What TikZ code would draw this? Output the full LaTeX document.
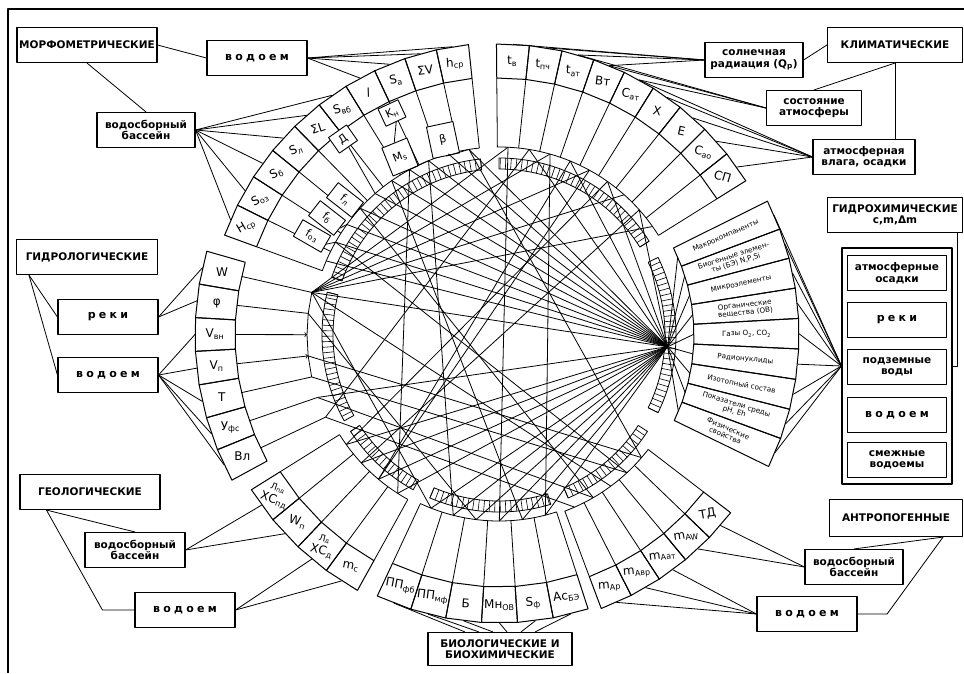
\documentclass[tikz,border=0pt]{standalone}
\usepackage{fontspec}
\setmainfont{DejaVu Sans}
\newfontfamily\wide[LetterSpace=30]{DejaVu Sans}
\usetikzlibrary{positioning,arrows,calc}

\tikzset{
  namebox/.style={draw, line width=1.1pt, font=\bfseries\fontsize{10.5}{11.5}\selectfont, minimum height=35pt, align=center, inner sep=2pt},
  titlebox/.style={draw, line width=1.1pt, font=\bfseries\fontsize{10.5}{11.5}\selectfont, minimum height=35pt, align=center, inner sep=2pt},
  wordbox/.style={draw, line width=1.1pt, font=\wide\bfseries\fontsize{11}{12}\selectfont, minimum height=35pt, minimum width=100pt},
  celltext/.style={font=\fontsize{12}{13}\selectfont, inner sep=0pt, align=center},
  chemtext/.style={font=\fontsize{7.2}{7.6}\selectfont, inner sep=0pt, align=center},
  smallbox/.style={draw, fill=white, line width=0.9pt, font=\fontsize{11}{12}\selectfont, inner sep=1pt, minimum width=22pt, minimum height=19pt},
  link/.style={line width=0.8pt},
}

% annular cell: name, angle from, angle to, r in, r out, text rotation, style, text
\newcommand\ringcell[8]{%
  \draw (#2:#4) -- (#2:#5) -- (#3:#5) -- (#3:#4) -- cycle;
  \node[#7, rotate=#6] (#1) at ({(#2+#3)/2}:{(#4+#5)/2}) {#8};
  \coordinate (#1-o) at ({(#2+#3)/2}:#5);
  \coordinate (#1-i) at ({(#2+#3)/2}:#4);
}
% fan of stems: start angle, step, count, r in, r stem
\newcommand\stems[5]{%
  \foreach \k in {0,...,#3} {\draw[link] ({#1-\k*(#2)}:#4) -- ({#1-\k*(#2)}:#5);}
  \draw[link] (#1:#5) arc[start angle=#1, end angle={#1-#3*(#2)}, radius=#5];
}

\begin{document}
\begin{tikzpicture}[x=1pt, y=-1pt, line width=1pt, line join=round]
\useasboundingbox (0,0) rectangle (964,673);
\draw[line width=1.2pt] (964,9) -- (8,9) -- (8,673);

% morphometric
\node[namebox, minimum width=140pt] (morph) at (87,45) {МОРФОМЕТРИЧЕСКИЕ};
\node[wordbox] (mvd) at (257,58) {водоем};
\node[titlebox, minimum width=98pt] (msb) at (146,130) {водосборный\\бассейн};

% climatic
\node[namebox, minimum width=135pt] (klim) at (895,45) {КЛИМАТИЧЕСКИЕ};
\node[titlebox, minimum width=98pt] (sol) at (754,60) {солнечная\\радиация (Q\textsubscript{р})};
\node[titlebox, minimum width=95pt] (sost) at (814,108) {состояние\\атмосферы};
\node[titlebox, minimum width=102pt] (vlaga) at (864,157) {атмосферная\\влага, осадки};

% hydrochemical
\node[namebox, minimum width=135pt] (gidro) at (895,215) {ГИДРОХИМИЧЕСКИЕ\\c,m,Δm};
\node[draw, line width=1.1pt, minimum width=110pt, minimum height=236pt] (frame) at (897,366) {};
\node[titlebox, minimum width=99pt] (ao) at (897,273) {атмосферные\\осадки};
\node[wordbox, minimum width=99pt] (rk) at (897,320) {реки};
\node[titlebox, minimum width=99pt] (pv) at (897,367) {подземные\\воды};
\node[wordbox, minimum width=99pt] (vd) at (897,415) {водоем};
\node[titlebox, minimum width=99pt] (sv) at (897,460) {смежные\\водоемы};

% hydrological
\node[namebox, minimum width=141pt] (gidrol) at (87,257) {ГИДРОЛОГИЧЕСКИЕ};
\node[wordbox] (hrk) at (108,317) {реки};
\node[wordbox] (hvd) at (108,375) {водоем};

% geological
\node[namebox, minimum width=140pt] (geol) at (90,492) {ГЕОЛОГИЧЕСКИЕ};
\node[titlebox, minimum width=100pt] (gsb) at (135,550) {водосборный\\бассейн};
\node[wordbox] (gvd) at (185,610) {водоем};

% biological
\node[namebox, minimum width=144pt, minimum height=33pt] (bio) at (500,649) {БИОЛОГИЧЕСКИЕ И\\БИОХИМИЧЕСКИЕ};

% anthropogenic
\node[namebox, minimum width=133pt, minimum height=37pt] (antr) at (896,518) {АНТРОПОГЕННЫЕ};
\node[titlebox, minimum width=98pt] (asb) at (854,567) {водосборный\\бассейн};
\node[wordbox] (avd) at (807,614) {водоем};

\begin{scope}[y=1pt, shift={(499,-335)}]
% hatched ring
\foreach \ringA/\ringB in {96/161, 32/90, -26/26, -67/-33, -113/-73, -147/-119, 166/209} {
  \draw[line width=0.8pt, fill=white] (\ringA:166) arc[start angle=\ringA, end angle=\ringB, radius=166]
    -- (\ringB:177) arc[start angle=\ringB, end angle=\ringA, radius=177] -- cycle;
  \pgfmathsetmacro\ringC{\ringA+1.8}
  \foreach \t in {\ringA,\ringC,...,\ringB} \draw[line width=0.6pt] (\t:166) -- (\t:177);
}

% morphometric cells
\foreach \lab [count=\i] in {H\textsubscript{ср},S\textsubscript{оз},S\textsubscript{б},S\textsubscript{л},ΣL,S\textsubscript{вб},\textit{l},S\textsubscript{а},ΣV,h\textsubscript{ср}} {
  \pgfmathsetmacro\angA{160-(\i-1)*6.4}
  \pgfmathsetmacro\angB{\angA-6.4}
  \pgfmathsetmacro\rotT{((\angA+\angB)/2-90)*0.45}
  \ringcell{m\i}{\angA}{\angB}{258}{292}{\rotT}{celltext}{\lab}
  \coordinate (m\i-s) at ({(\angA+\angB)/2}:188);
}
\stems{160}{6.4}{10}{258}{188}

% climatic cells
\foreach \lab [count=\i] in {t\textsubscript{в},t\textsubscript{пч},t\textsubscript{ат},Вт,С\textsubscript{ат},Х,Е,С\textsubscript{ао},СП} {
  \pgfmathsetmacro\angA{90.5-(\i-1)*6.5}
  \pgfmathsetmacro\angB{\angA-6.5}
  \pgfmathsetmacro\rotT{((\angA+\angB)/2-90)*0.3}
  \ringcell{c\i}{\angA}{\angB}{257}{291}{\rotT}{celltext}{\lab}
  \coordinate (c\i-s) at ({(\angA+\angB)/2}:188);
}
\stems{90.5}{6.5}{9}{257}{188}

% hydrochemical cells
\foreach \lab [count=\i] in {Макрокомпаненты,{Биогенные элемен-\\ты (БЭ) N,P,Si},Микроэлементы,{Органические\\вещества (ОВ)},{Газы O\textsubscript{2}, CO\textsubscript{2}},Радионуклиды,Изотопный состав,{Показатели среды\\pH, Eh},{Физические\\свойства}} {
  \pgfmathsetmacro\angA{26.5-(\i-1)*5.833}
  \pgfmathsetmacro\angB{\angA-5.833}
  \pgfmathsetmacro\rotT{(\angA+\angB)/2}
  \ringcell{hc\i}{\angA}{\angB}{195}{300}{\rotT}{chemtext}{\lab}
}
\coordinate (HR) at (-4:169);

% anthropogenic cells
\foreach \lab [count=\i] in {ТД,m\textsubscript{AW},m\textsubscript{Aат},m\textsubscript{Aвр},m\textsubscript{Ар}} {
  \pgfmathsetmacro\angA{-37.5-(\i-1)*6.4}
  \pgfmathsetmacro\angB{\angA-6.4}
  \pgfmathsetmacro\rotT{((\angA+\angB)/2+90)*0.2}
  \ringcell{a\i}{\angA}{\angB}{258}{292}{\rotT}{celltext}{\lab}
  \coordinate (a\i-s) at ({(\angA+\angB)/2}:188);
}
\stems{-37.5}{6.4}{5}{258}{188}

% biological cells
\foreach \lab [count=\i] in {ПП\textsubscript{фб},ПП\textsubscript{мф},Б,Мн\textsubscript{ОВ},S\textsubscript{ф},Ас\textsubscript{БЭ}} {
  \pgfmathsetmacro\angA{245+(\i-1)*7.17}
  \pgfmathsetmacro\angB{\angA+7.17}
  \pgfmathsetmacro\rotT{((\angA+\angB)/2-270)*0.5}
  \ringcell{b\i}{\angA}{\angB}{252}{288}{\rotT}{celltext}{\lab}
  \coordinate (b\i-s) at ({(\angA+\angB)/2}:186);
}
\stems{245}{-7.17}{6}{252}{186}

% geological cells
\foreach \lab [count=\i] in {{\fontsize{9}{9}\selectfont Л\textsubscript{пд}\\ХС\textsubscript{пд}},W\textsubscript{п},{\fontsize{9}{9}\selectfont Л\textsubscript{д}\\ХС\textsubscript{д}},m\textsubscript{с}} {
  \pgfmathsetmacro\angA{212+(\i-1)*7.25}
  \pgfmathsetmacro\angB{\angA+7.25}
  \pgfmathsetmacro\rotT{((\angA+\angB)/2-270)*0.35}
  \ringcell{g\i}{\angA}{\angB}{258}{292}{\rotT}{celltext}{\lab}
  \coordinate (g\i-s) at ({(\angA+\angB)/2}:188);
}
\stems{212}{-7.25}{4}{258}{188}

% hydrological cells
\foreach \lab [count=\i] in {W,φ,V\textsubscript{вн},V\textsubscript{п},T,У\textsubscript{фс},Вл} {
  \pgfmathsetmacro\angA{164+(\i-1)*6.36}
  \pgfmathsetmacro\angB{\angA+6.36}
  \ringcell{h\i}{\angA}{\angB}{264}{304}{0}{celltext}{\lab}
  \coordinate (h\i-s) at ({(\angA+\angB)/2}:192);
}
\end{scope}

% morphometric inner boxes
\node[smallbox, rotate=35] (D) at (343,139) {Д};
\node[smallbox, rotate=25] (Kn) at (392,113) {K\textsubscript{н}};
\node[smallbox, rotate=22, minimum width=27pt, minimum height=30pt] (Ms) at (400,157) {M\textsubscript{s}};
\node[smallbox, rotate=12, minimum width=27pt, minimum height=32pt] (beta) at (443,140) {β};
\node[smallbox, rotate=-38, minimum width=32pt] (fl) at (345,200) {f\textsubscript{л}};
\node[smallbox, rotate=-38, minimum width=32pt] (fb) at (327,218) {f\textsubscript{б}};
\node[smallbox, rotate=-30, minimum width=32pt] (foz) at (312,236) {f\textsubscript{оз}};
\draw[link] (Kn.south) -- (Ms.north);
\draw[link] (Ms.south) -- (m8-s);
\draw[link] (beta.south) -- (m10-s);
\draw[link] (D.south) -- (m5-s);
\draw[link] (fl.east) -- (m4-s);
\draw[link] (fb.east) -- (m3-s);
\draw[link] (foz.east) -- (m2-s);

% hydrological bus
\foreach \i in {1,2,5,6,7} \draw[link] (h\i-i) -- (h\i-s);
\foreach \i in {3,4} \draw[link,->] (h\i-i) -- (h\i-s);
\draw[link] (h1-s) -- (h2-s) -- (h3-s) -- (h4-s) -- (h5-s);

% hydrochemical fans
\foreach \i in {1,...,9} {
  \draw[link] (HR) -- (hc\i-i);
  \draw[link] (hc\i-o) -- (frame.west);
}

% chords through the circle
\foreach \i in {1,...,10} \draw[link] (m\i-s) -- (HR);
\foreach \j in {1,3,5,7,9} \draw[link] (h1-s) -- (c\j-s);
\draw[link] (h1-s) -- (HR);
\draw[link] (h6-s) -- (HR);
\foreach \j in {2,4,6,8} \draw[link] (c\j-s) -- (HR);
\foreach \j in {1,...,4} \draw[link] (g\j-s) -- (HR);
\foreach \j in {1,...,6} \draw[link] (b\j-s) -- (HR);
\foreach \p/\q in {1/4,2/5,3/1,4/6,5/7} \draw[link] (a\p-s) -- (h\q-s);
\foreach \p/\q in {m8/b2,m7/g4,c1/b4,g1/c6,g2/c8,g3/c4,b1/h1,b3/h2,b5/m6,c3/b6,c5/g3,m2/a2,m4/a4,c2/h7,m10/a1}
  \draw[link] (\p-s) -- (\q-s);

% labels to cells
\draw[link] (morph.east) -- (mvd.west);
\draw[link] (morph.south) -- (msb.north);
\foreach \i in {1,...,6} \draw[link] (msb.east) -- (m\i-o);
\foreach \i in {7,...,10} \draw[link] (mvd.east) -- (m\i-o);

\draw[link] (klim.west) -- (sol.east);
\draw[link] (klim.south) -- (sost.north);
\draw[link] (klim.south) -- (klim.south |- vlaga.north);
\foreach \i in {1,...,4} \draw[link] (sol.west) -- (c\i-o);
\foreach \i in {3,4,5} \draw[link] (sost.west) -- (c\i-o);
\foreach \i in {5,...,9} \draw[link] (vlaga.west) -- (c\i-o);

\draw[link] ([xshift=-6pt]gidro.south east) |- (frame.east);

\draw[link] ([xshift=13pt]gidrol.south west) -- (hrk.west);
\draw[link] ([xshift=13pt]gidrol.south west) -- (hvd.west);
\foreach \i in {1,2} \draw[link] (hrk.east) -- (h\i-o);
\foreach \i in {3,...,7} \draw[link] (hvd.east) -- (h\i-o);

\draw[link] ([xshift=27pt]geol.south west) -- (gsb.north);
\draw[link] ([xshift=27pt]geol.south west) -- ++(56,100) -- (gvd.west);
\foreach \i in {1,2} \draw[link] (gsb.east) -- (g\i-o);
\foreach \i in {3,4} \draw[link] (gvd.east) -- (g\i-o);

\foreach \i in {1,...,6} \draw[link] ([xshift={(\i-3.5)*14pt}]bio.north) -- (b\i-o);

\draw[link] ([xshift=-20pt]antr.south east) -- (asb.north);
\draw[link] ([xshift=-20pt]antr.south east) -- ++(-56,77) -- (avd.east);
\foreach \i in {1,2} \draw[link] (asb.west) -- (a\i-o);
\foreach \i in {3,4,5} \draw[link] (avd.west) -- (a\i-o);
\end{tikzpicture}
\end{document}
